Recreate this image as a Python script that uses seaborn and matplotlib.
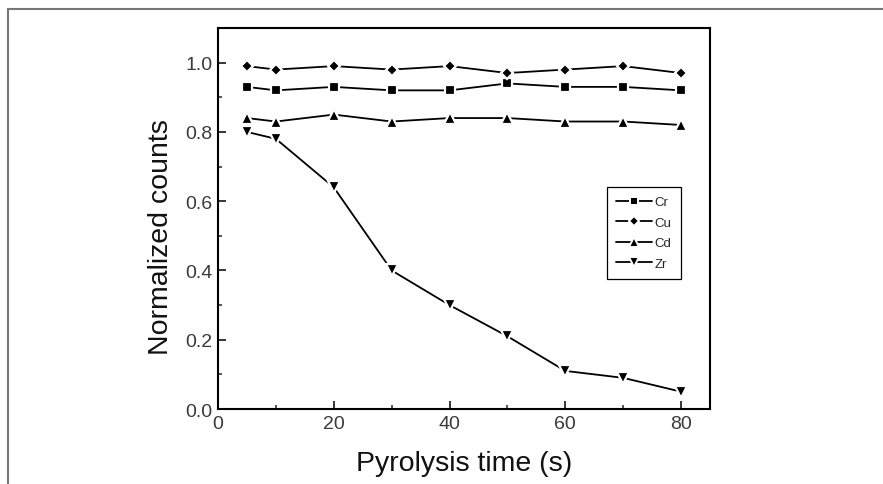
import numpy as np
import pandas as pd
import seaborn as sns
import matplotlib.pyplot as plt
from matplotlib.lines import Line2D
from matplotlib.ticker import MultipleLocator

# data
time_s = [5, 10, 20, 30, 40, 50, 60, 70, 80]
cr = [0.93, 0.92, 0.93, 0.92, 0.92, 0.94, 0.93, 0.93, 0.92]
cu = [0.99, 0.98, 0.99, 0.98, 0.99, 0.97, 0.98, 0.99, 0.97]
cd = [0.84, 0.83, 0.85, 0.83, 0.84, 0.84, 0.83, 0.83, 0.82]
zr = [0.80, 0.78, 0.64, 0.40, 0.30, 0.21, 0.11, 0.09, 0.05]
elements = ['Cr', 'Cu', 'Cd', 'Zr']
marker_map = {'Cr': 's', 'Cu': 'D', 'Cd': '^', 'Zr': 'v'}
size_map = {'Cr': 6.5, 'Cu': 6, 'Cd': 8.5, 'Zr': 8.5}

df = pd.DataFrame({
    'time': time_s * 4,
    'counts': cr + cu + cd + zr,
    'element': np.repeat(elements, len(time_s)),
})

sns.set_style('ticks')
plt.rcParams['font.family'] = ['Liberation Sans', 'DejaVu Sans']

fig = plt.figure(figsize=(8.83, 4.85), dpi=100)
ax = fig.add_axes([0.2469, 0.1546, 0.5572, 0.7856])

# 每条曲线单独画, 白色描边让线条在标记处断开
for el in elements:
    sub = df[df['element'] == el]
    sns.lineplot(data=sub, x='time', y='counts', ax=ax, color='black',
                 linewidth=1.3, marker=marker_map[el], markersize=size_map[el],
                 markeredgecolor='white', markeredgewidth=1.6, legend=False)

ax.set_xlim(0, 85)
ax.set_ylim(0, 1.1)
ax.xaxis.set_major_locator(MultipleLocator(20))
ax.xaxis.set_minor_locator(MultipleLocator(10))
ax.yaxis.set_major_locator(MultipleLocator(0.2))
ax.yaxis.set_minor_locator(MultipleLocator(0.1))
ax.set_yticks(np.arange(0, 1.01, 0.2))
ax.set_yticklabels(['0.0', '0.2', '0.4', '0.6', '0.8', '1.0'])
ax.tick_params(which='major', direction='in', length=6, width=1.3, labelsize=14,
               labelcolor='#3a3a3a', pad=4)
ax.tick_params(which='minor', direction='in', length=3, width=1.1)
for sp in ax.spines.values():
    sp.set_linewidth(1.5)
    sp.set_color('black')

ax.set_xlabel('Pyrolysis time (s)', fontsize=20.5, color='#111111', labelpad=13)
ax.set_ylabel('Normalized counts', fontsize=20.5, color='#111111')
ax.yaxis.set_label_coords(-0.09, 0.454)

handles = [Line2D([], [], color='black', linewidth=1.3, marker=marker_map[el],
                  markersize=size_map[el] - 1, markeredgecolor='white',
                  markeredgewidth=1.4) for el in elements]
leg = ax.legend(handles, elements, loc='upper left', bbox_to_anchor=(0.79, 0.583),
                borderaxespad=0, fontsize=9.5, fancybox=False, framealpha=1,
                edgecolor='black', handlelength=2.7, handletextpad=0.25,
                labelspacing=0.62, borderpad=0.7)
leg.get_frame().set_linewidth(0.9)

# grey outer frame (top and left only visible)
fig.add_artist(Line2D([8 / 883, 1], [1 - 10 / 485] * 2, color='#777777',
                      linewidth=1.5, transform=fig.transFigure))
fig.add_artist(Line2D([8 / 883] * 2, [0, 1 - 10 / 485], color='#777777',
                      linewidth=1.5, transform=fig.transFigure))

fig.savefig('out.png', dpi=100)
plt.close()
